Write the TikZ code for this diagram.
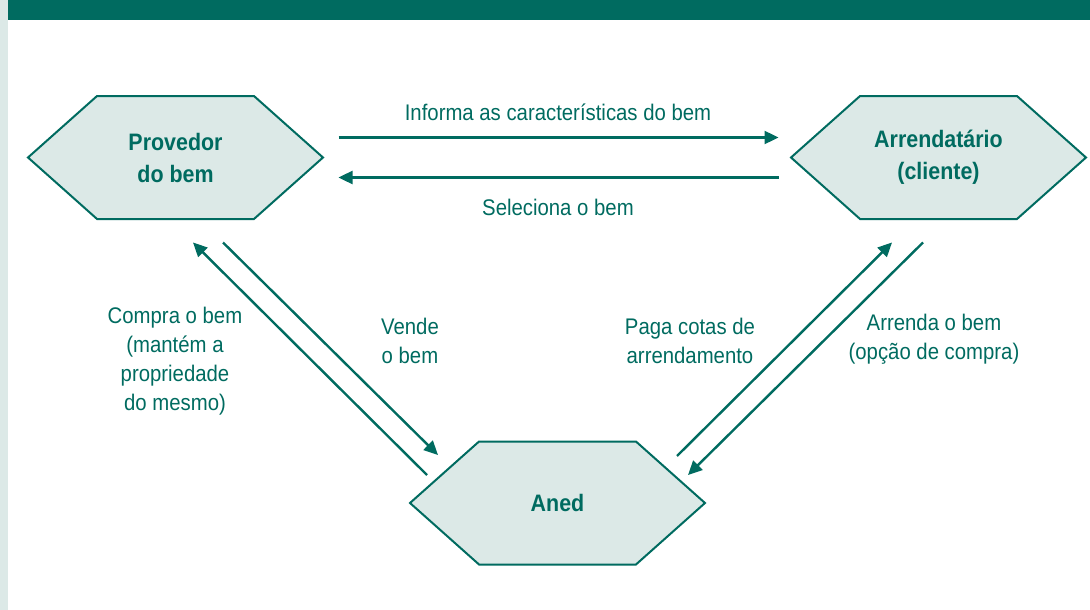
\documentclass[tikz,border=0pt]{standalone}
\usepackage{fontspec}
\setmainfont{Liberation Sans}[FakeStretch=0.9]
\usepackage{tikz}
\usetikzlibrary{calc,arrows.meta,shapes.symbols}
\definecolor{verde}{RGB}{0,107,96}
\definecolor{claro}{RGB}{220,233,231}

\begin{document}
\begin{tikzpicture}[x=1pt,y=-1pt,
  hexa/.style={signal,signal to=west and east,signal pointer angle=83.4,
    draw=verde,fill=claro,line width=2pt,minimum width=295pt,minimum height=123pt,
    inner sep=0pt,text=verde,align=center,font=\fontsize{23.8}{32}\selectfont\bfseries},
  rotulo/.style={text=verde,align=center,font=\fontsize{22.6}{28.8}\selectfont},
  flecha/.style={draw=verde,line width=2.4pt,-{Triangle[length=14pt,width=13pt]}}]

\useasboundingbox(0,0) rectangle (1090,610);
\fill[claro](0,0) rectangle (8,610);
\fill[verde](8,0) rectangle (1090,20);

\node[hexa](prov) at (175.5,157.5){Provedor\\do bem};
\node[hexa](arr) at (938.5,157.5){Arrendatário\\(cliente)};
\node[hexa](aned) at (557.5,503){Aned};

\draw[flecha]([xshift=14pt,yshift=20pt]prov.east)--([xshift=-11pt,yshift=20pt]arr.west);
\draw[flecha]([xshift=-11pt,yshift=-20pt]arr.west)--([xshift=14pt,yshift=-20pt]prov.east);
\node[rotulo](informa) at (558,112){Informa as características do bem};
\node[rotulo](seleciona) at (558,207){Seleciona o bem};

\coordinate(c1) at ($(aned.center)+(-130.5,-28)$);
\coordinate(c2) at ($(prov.center)+(17.5,85)$);
\coordinate(v1) at ($(prov.center)+(47.5,85)$);
\coordinate(v2) at ($(aned.center)+(-119.5,-48)$);
\draw[flecha](c1)--(c2);
\draw[flecha](v1)--(v2);

\coordinate(p1) at ($(aned.center)+(119.5,-47)$);
\coordinate(p2) at ($(arr.center)+(-46.5,85)$);
\coordinate(a1) at ($(arr.center)+(-15.5,85)$);
\coordinate(a2) at ($(aned.center)+(130.5,-28)$);
\draw[flecha](p1)--(p2);
\draw[flecha](a1)--(a2);

\node[rotulo](compra) at (175,361){Compra o bem\\(mantém a\\propriedade\\do mesmo)};
\node[rotulo](vende) at (410,341){Vende\\o bem};
\node[rotulo](paga) at (690,341){Paga cotas de\\arrendamento};
\node[rotulo](arrenda) at (934,339){Arrenda o bem\\(opção de compra)};

\end{tikzpicture}
\end{document}
